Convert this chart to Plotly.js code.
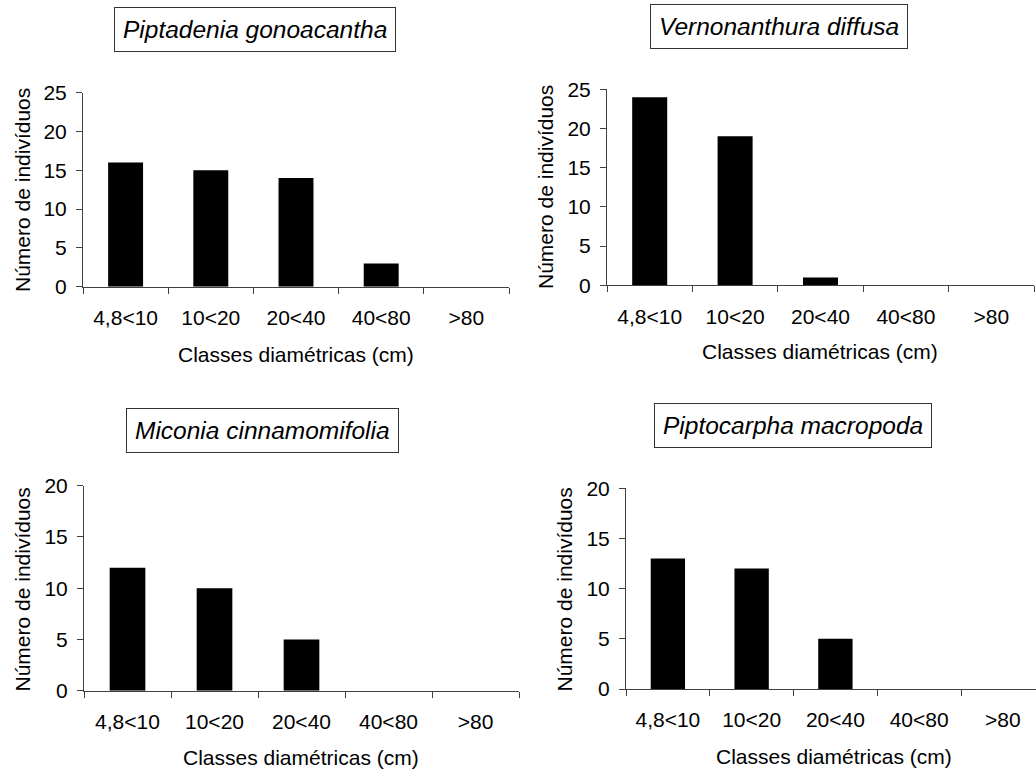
<!DOCTYPE html>
<html>
<head>
<meta charset="utf-8">
<script src="https://cdn.plot.ly/plotly-3.0.1.min.js"></script>
<style>
  html, body { margin: 0; padding: 0; background: #fff; }
  #chart { width: 1036px; height: 771px; }
</style>
</head>
<body>
<div id="chart"></div>
<script>
// Diameter classes (cm) shared by all four species
const classes = ['4,8<10', '10<20', '20<40', '40<80', '>80'];

// Number of individuals per diameter class
const piptadenia = [16, 15, 14, 3, 0];
const vernonanthura = [24, 19, 1, 0, 0];
const miconia = [12, 10, 5, 0, 0];
const piptocarpha = [13, 12, 5, 0, 0];

const species = ['Piptadenia gonoacantha', 'Vernonanthura diffusa',
                 'Miconia cinnamomifolia', 'Piptocarpha macropoda'];
const yTitle = 'Número de indivíduos';
const xTitle = 'Classes diamétricas (cm)';

const W = 1036, H = 771;
const FONT = 'Arial, "Liberation Sans", Helvetica, sans-serif';
const px = v => v / W;
const py = v => 1 - v / H;

// Panel geometry in pixels: plot box, y range, box-title centre, axis-title centres
const panels = [
  { data: piptadenia, x0: 83, x1: 509, yTop: 92.7, yBot: 286.7, ymax: 25, xr: [-0.5, 4.5],
    title: [254.5, 29.5], ytitle: [22, 190], xtitle: [296, 355] },
  { data: vernonanthura, x0: 607, x1: 1034, yTop: 89.3, yBot: 285.3, ymax: 25, xr: [-0.5, 4.5],
    title: [779, 26.5], ytitle: [545, 187], xtitle: [820, 352] },
  { data: miconia, x0: 84, x1: 519, yTop: 485.7, yBot: 690.7, ymax: 20, xr: [-0.5, 4.5],
    title: [262.5, 430.5], ytitle: [22, 589.5], xtitle: [301, 757.5] },
  { data: piptocarpha, x0: 626, x1: 1036, yTop: 488.3, yBot: 689, ymax: 20, xr: [-0.5, 4.395],
    title: [792.5, 425.5], ytitle: [563.5, 590], xtitle: [834, 756] }
];

const traces = [];
const layout = {
  width: W, height: H,
  margin: { l: 0, r: 0, t: 0, b: 0 },
  paper_bgcolor: '#fff', plot_bgcolor: '#fff',
  showlegend: false,
  bargap: 0.59,
  font: { family: FONT, size: 21, color: '#000' },
  annotations: []
};

panels.forEach((p, i) => {
  const n = i === 0 ? '' : String(i + 1);
  traces.push({
    type: 'bar',
    x: classes,
    y: p.data,
    xaxis: 'x' + n,
    yaxis: 'y' + n,
    marker: { color: '#000', line: { width: 0 } },
    hoverinfo: 'x+y'
  });

  layout['xaxis' + n] = {
    domain: [px(p.x0), px(p.x1)],
    anchor: 'y' + n,
    type: 'category',
    range: p.xr,
    showline: true, linecolor: '#404040', linewidth: 1,
    ticks: 'outside', ticklen: 6, tickcolor: '#404040', tickwidth: 1,
    tickson: 'boundaries',
    ticklabelstandoff: 12,
    showgrid: false, zeroline: false,
    tickfont: { family: FONT, size: 21, color: '#000' },
    fixedrange: true
  };
  layout['yaxis' + n] = {
    domain: [py(p.yBot), py(p.yTop)],
    anchor: 'x' + n,
    range: [0, p.ymax],
    dtick: 5,
    showline: true, linecolor: '#404040', linewidth: 1,
    ticks: 'outside', ticklen: 6, tickcolor: '#404040', tickwidth: 1,
    ticklabelstandoff: 5,
    showgrid: false, zeroline: false,
    tickfont: { family: FONT, size: 21, color: '#000' },
    fixedrange: true
  };

  // Boxed species name
  layout.annotations.push({
    xref: 'paper', yref: 'paper',
    x: px(p.title[0]), y: py(p.title[1]),
    xanchor: 'center', yanchor: 'middle',
    text: '<i>' + species[i] + '</i>',
    showarrow: false,
    font: { family: FONT, size: 24.5, color: '#000' },
    bordercolor: '#333', borderwidth: 1, borderpad: 8,
    bgcolor: '#fff'
  });
  // Y axis title
  layout.annotations.push({
    xref: 'paper', yref: 'paper',
    x: px(p.ytitle[0]), y: py(p.ytitle[1]),
    xanchor: 'center', yanchor: 'middle',
    text: yTitle, textangle: -90, showarrow: false,
    font: { family: FONT, size: 21, color: '#000' }
  });
  // X axis title
  layout.annotations.push({
    xref: 'paper', yref: 'paper',
    x: px(p.xtitle[0]), y: py(p.xtitle[1]),
    xanchor: 'center', yanchor: 'middle',
    text: xTitle, showarrow: false,
    font: { family: FONT, size: 21, color: '#000' }
  });
});

Plotly.newPlot('chart', traces, layout, { displayModeBar: false, staticPlot: true });
</script>
</body>
</html>
